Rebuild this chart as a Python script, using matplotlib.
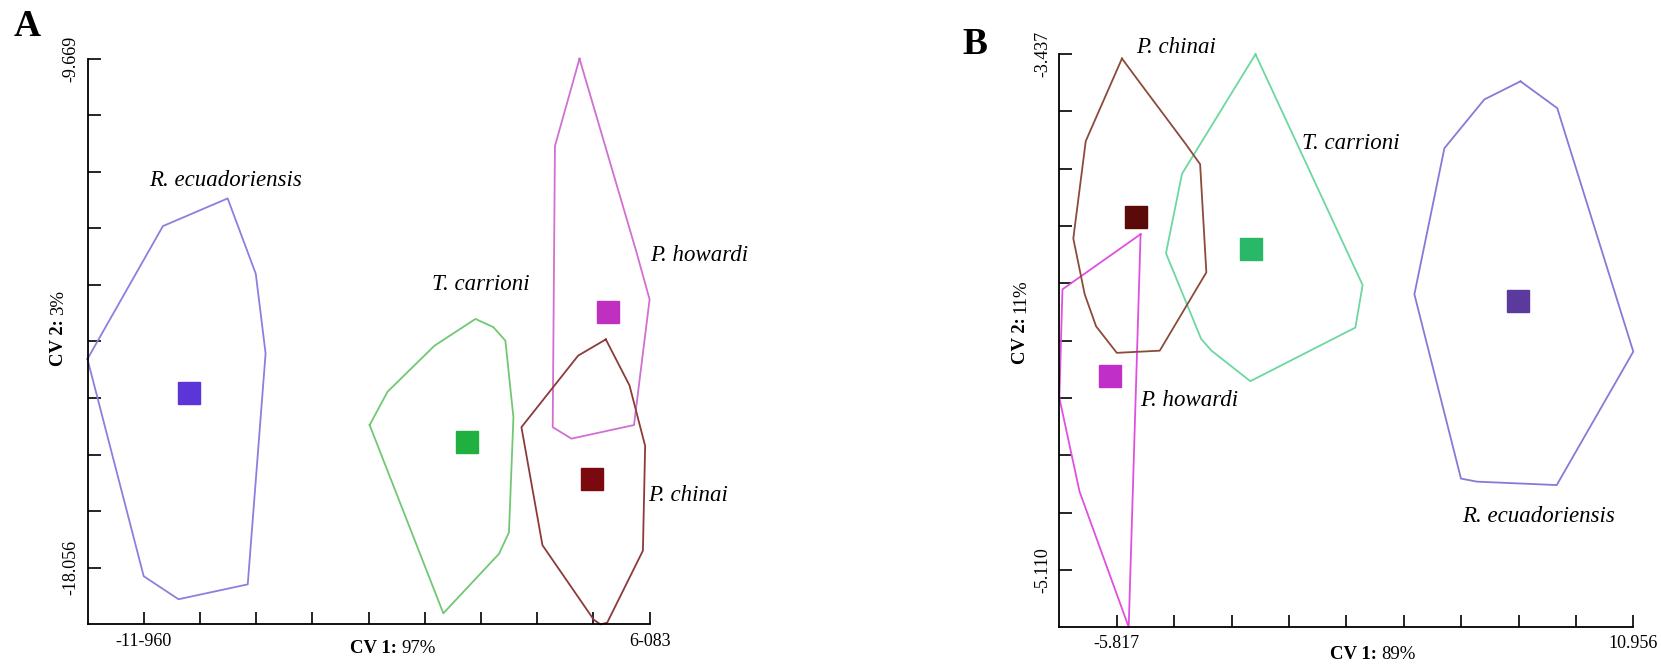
"""Canonical variate plots (CV1 vs CV2) for four species, panels A and B."""
import matplotlib
matplotlib.use("Agg")
import matplotlib.pyplot as plt

plt.rcParams["font.family"] = ["Liberation Serif", "DejaVu Serif"]

SPECIES = ["R. ecuadoriensis", "T. carrioni", "P. howardi", "P. chinai"]

# ---------- Panel A: hull vertices (CV1, CV2) ----------
a_rec_x = [-13.967, -11.275, -8.966, -7.963, -7.613, -8.250, -10.718, -11.960]
a_rec_y = [-14.617, -12.427, -11.971, -13.213, -14.526, -18.330, -18.575, -18.196]
a_tca_x = [-3.902, -3.265, -1.593, -0.128, 0.509, 0.939, 1.226, 1.067, 0.716, -1.274]
a_tca_y = [-15.705, -15.157, -14.399, -13.957, -14.091, -14.315, -15.578, -17.473, -17.824, -18.807]
a_pho_x = [3.583, 5.605, 6.083, 5.526, 3.296, 2.627, 2.707]
a_pho_y = [-9.669, -12.841, -13.634, -15.705, -15.929, -15.740, -11.108]
a_pch_x = [4.522, 5.366, 5.924, 5.844, 4.570, 4.331, 4.092, 2.261, 1.512, 3.535]
a_pch_y = [-14.294, -15.052, -16.049, -17.775, -18.961, -18.990, -18.912, -17.684, -15.740, -14.561]
# group centroids
a_cent_x = [-10.336, -0.446, 4.602, 4.029]
a_cent_y = [-15.185, -15.986, -13.838, -16.596]

# ---------- Panel B ----------
b_rec_x = [7.292, 8.486, 10.956, 8.469, 5.881, 5.360, 3.847, 4.822, 6.116]
b_rec_y = [-3.525, -3.612, -4.402, -4.835, -4.824, -4.814, -4.216, -3.742, -3.584]
b_tca_x = [-1.313, 2.166, 1.931, -1.481, -2.741, -3.077, -4.220, -3.699]
b_tca_y = [-3.437, -4.186, -4.324, -4.498, -4.399, -4.361, -4.083, -3.825]
b_pho_x = [-5.044, -5.430, -7.027, -7.681, -7.582]
b_pho_y = [-4.021, -5.296, -4.856, -4.553, -4.200]
b_pch_x = [-5.649, -5.145, -3.582, -3.111, -2.909, -4.422, -5.817, -6.489, -6.859, -7.229, -6.825]
b_pch_y = [-3.451, -3.519, -3.728, -3.794, -4.145, -4.399, -4.406, -4.320, -4.216, -4.035, -3.719]
b_cent_x = [7.225, -1.464, -6.052, -5.178]
b_cent_y = [-4.237, -4.069, -4.482, -3.965]

a_ticks_x = (-11.960, 6.083)
a_ticks_y = (-18.056, -9.669)
b_ticks_x = (-5.817, 10.956)
b_ticks_y = (-5.110, -3.437)

W, H = 1661, 664
fig = plt.figure(figsize=(W / 100, H / 100), dpi=100)


def add_ax(l, r, t, b):
    return fig.add_axes([l / W, 1 - b / H, (r - l) / W, (b - t) / H])


def cv_label(ax, pos, num, pct, vertical=False):
    # bold "CV n:" followed by the regular percentage
    fs = 13.5
    if vertical:
        t = ax.text(pos[0], pos[1], f"CV {num}:", transform=ax.transAxes, rotation=90,
                    ha="center", va="bottom", fontsize=fs, weight="bold")
        ax.annotate(pct, xy=(0.5, 1), xycoords=t, xytext=(0, 3), textcoords="offset points",
                    rotation=90, ha="center", va="bottom", fontsize=fs)
    else:
        t = ax.text(pos[0], pos[1], f"CV {num}:", transform=ax.transAxes,
                    ha="left", va="bottom", fontsize=fs, weight="bold")
        ax.annotate(pct, xy=(1, 0), xycoords=t, xytext=(3, 0), textcoords="offset points",
                    ha="left", va="bottom", fontsize=fs)


def style_axes(ax, tx, ty, tx_lbl, ty_lbl):
    # ten evenly spaced ticks, only the first and last labelled
    dx = (tx[1] - tx[0]) / 9
    dy = (ty[1] - ty[0]) / 9
    ax.set_xlim(tx[0] - dx, tx[1])
    ax.set_ylim(ty[0] - dy, ty[1])
    for s in ("top", "right"):
        ax.spines[s].set_visible(False)
    for s in ("left", "bottom"):
        ax.spines[s].set_linewidth(1.3)
    ax.set_xticks([tx[0] + i * dx for i in range(10)])
    ax.set_yticks([ty[0] + i * dy for i in range(10)])
    ax.set_xticklabels([tx_lbl[0]] + [""] * 8 + [tx_lbl[1]], fontsize=13)
    ax.set_yticklabels([ty_lbl[0]] + [""] * 8 + [ty_lbl[1]], fontsize=13,
                       rotation=90, va="center")
    ax.tick_params(direction="in", length=9, width=1.2, pad=6)


hull_cols = ["#8a80e0", "#72c872", "#d070d0", "#8c3a3a"]
cent_cols_a = ["#5b35d8", "#20b040", "#c030c0", "#7a0a10"]
lab_kw = dict(fontsize=16.5, style="italic", clip_on=False)

# ---- A ----
ax = add_ax(87.5, 649.6, 58.7, 624.3)
hulls_a = [(a_rec_x, a_rec_y), (a_tca_x, a_tca_y), (a_pho_x, a_pho_y), (a_pch_x, a_pch_y)]
for (hx, hy), c in zip(hulls_a, hull_cols):
    ax.plot(hx + hx[:1], hy + hy[:1], color=c, lw=1.3, clip_on=False)
for x, y, c in zip(a_cent_x, a_cent_y, cent_cols_a):
    ax.plot(x, y, "s", ms=15.5, color=c, mec=c)
style_axes(ax, a_ticks_x, a_ticks_y, ("-11-960", "6-083"), ("-18.056", "-9.669"))
cv_label(ax, (0.467, -0.058), 1, "97%")
cv_label(ax, (-0.052, 0.457), 2, "3%", vertical=True)
ax.text(-9.046, -11.683, SPECIES[0], ha="center", va="center", **lab_kw)
ax.text(0.079, -13.382, SPECIES[1], ha="center", va="center", **lab_kw)
ax.text(6.10, -12.91, SPECIES[2], ha="left", va="center", **lab_kw)
ax.text(6.035, -16.86, SPECIES[3], ha="left", va="center", **lab_kw)

# ---- B ----
hull_cols_b = ["#8a78d8", "#6cd8a0", "#e050e0", "#8c4a3a"]
cent_cols_b = ["#5a3a9c", "#28b868", "#c030c8", "#5a0a08"]
ax = add_ax(1059.4, 1633.3, 54.2, 627.1)
hulls_b = [(b_rec_x, b_rec_y), (b_tca_x, b_tca_y), (b_pho_x, b_pho_y), (b_pch_x, b_pch_y)]
for (hx, hy), c in zip(hulls_b, hull_cols_b):
    ax.plot(hx + hx[:1], hy + hy[:1], color=c, lw=1.3, clip_on=False)
for x, y, c in zip(b_cent_x, b_cent_y, cent_cols_b):
    ax.plot(x, y, "s", ms=15.5, color=c, mec=c)
style_axes(ax, b_ticks_x, b_ticks_y, ("-5.817", "10.956"), ("-5.110", "-3.437"))
cv_label(ax, (0.4715, -0.062), 1, "89%")
cv_label(ax, (-0.0676, 0.459), 2, "11%", vertical=True)
ax.text(7.881, -4.938, SPECIES[0], ha="center", va="center", **lab_kw)
ax.text(1.797, -3.726, SPECIES[1], ha="center", va="center", **lab_kw)
ax.text(-3.464, -4.560, SPECIES[2], ha="center", va="center", **lab_kw)
ax.text(-3.884, -3.415, SPECIES[3], ha="center", va="center", **lab_kw)

# panel letters
fig.text(14 / W, 1 - 26 / H, "A", fontsize=27, weight="bold", va="center")
fig.text(962 / W, 1 - 44 / H, "B", fontsize=27, weight="bold", va="center")

fig.savefig("out.png", dpi=100)
